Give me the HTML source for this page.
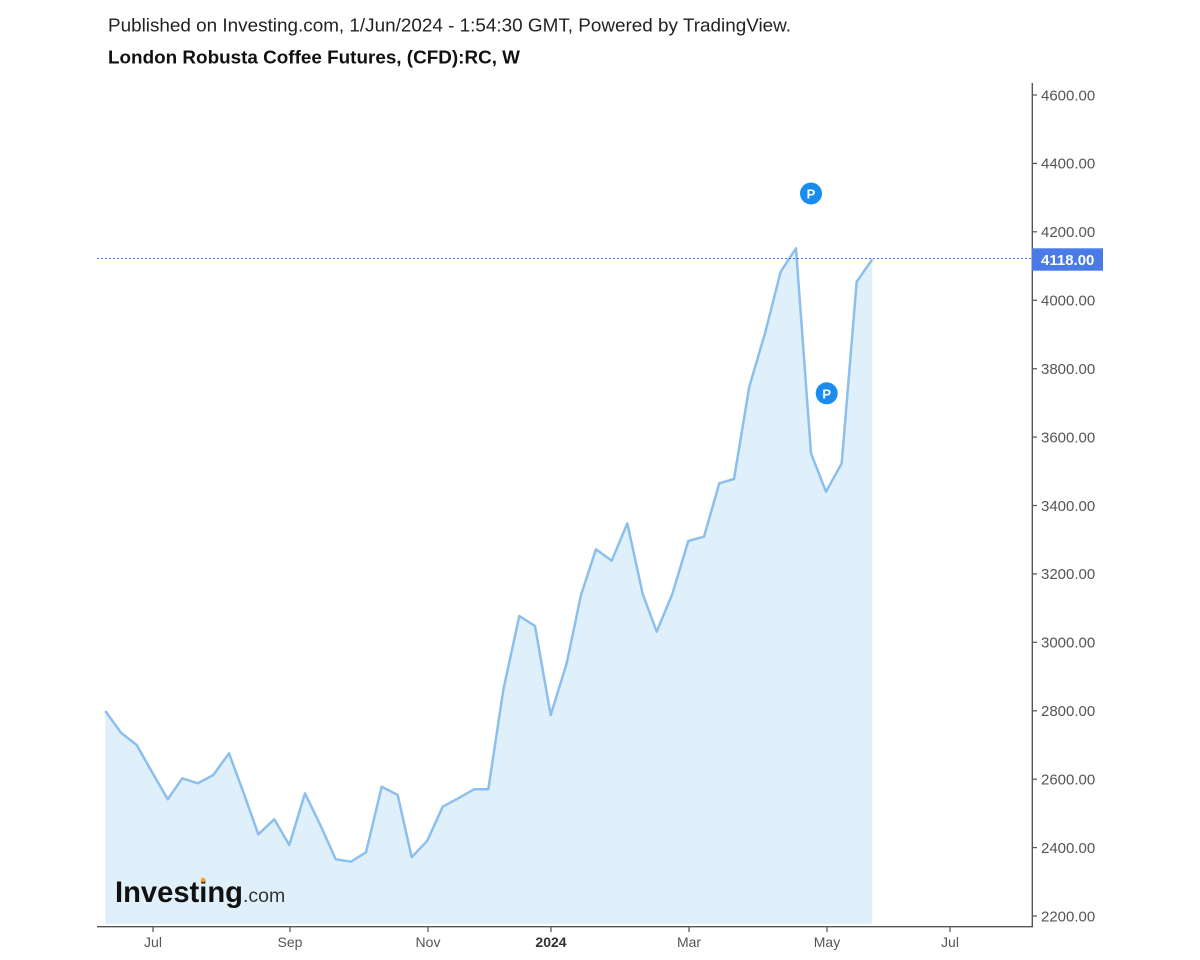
<!DOCTYPE html>
<html>
<head>
<meta charset="utf-8">
<style>
html,body{margin:0;padding:0;background:#fff;}
svg{display:block;}
text{font-family:"Liberation Sans",Arial,sans-serif;}
</style>
</head>
<body>
<svg width="1200" height="960" viewBox="0 0 1200 960" xmlns="http://www.w3.org/2000/svg">
<rect width="1200" height="960" fill="#fff"/>
<text x="108" y="31.5" font-size="18" fill="#222" textLength="683" lengthAdjust="spacingAndGlyphs">Published on Investing.com, 1/Jun/2024 - 1:54:30 GMT, Powered by TradingView.</text>
<text x="108" y="63.3" font-size="18" font-weight="bold" fill="#111" textLength="412" lengthAdjust="spacingAndGlyphs">London Robusta Coffee Futures, (CFD):RC, W</text>

<polygon fill="#e0f0fa" points="105.3,711 121,732.7 136.7,745 152,772 167.7,799.3 182.3,778.3 197.7,783.3 213.3,775 229,753.3 244,794 258.3,834.3 274.3,819.3 289.3,845 305,793.3 320.3,825 335.7,859.3 351,861.7 366,852.3 381.7,786.7 397.7,795 411.7,857.3 427.3,840.7 442.7,806.7 458.3,798.3 474,789.3 488.3,789.3 503.3,690 519.3,616 535,626 550.7,715 566.7,663.3 581,595 596,549.3 611.7,560.7 627.3,523.3 642.7,594 656.7,631.7 672.3,594 688.3,541 704,536.7 719.3,483.3 734,479 749.3,386.7 765,333.3 780.7,271.7 796,248.3 811,453.3 826,491.7 841.7,463.3 856.7,281.7 872.3,259.3 872.3,924 105.3,924"/>

<!-- Investing logo -->
<text x="115" y="902" font-size="30" font-weight="bold" fill="#111" textLength="128" lengthAdjust="spacingAndGlyphs">Investing</text>
<text x="243" y="902" font-size="19.5" fill="#333">.com</text>
<rect x="201" y="878" width="4" height="4" fill="#f7a21b" transform="rotate(20 203 880)"/>

<polyline fill="none" stroke="#8cbfee" stroke-width="2.5" stroke-linejoin="round" points="105.3,711 121,732.7 136.7,745 152,772 167.7,799.3 182.3,778.3 197.7,783.3 213.3,775 229,753.3 244,794 258.3,834.3 274.3,819.3 289.3,845 305,793.3 320.3,825 335.7,859.3 351,861.7 366,852.3 381.7,786.7 397.7,795 411.7,857.3 427.3,840.7 442.7,806.7 458.3,798.3 474,789.3 488.3,789.3 503.3,690 519.3,616 535,626 550.7,715 566.7,663.3 581,595 596,549.3 611.7,560.7 627.3,523.3 642.7,594 656.7,631.7 672.3,594 688.3,541 704,536.7 719.3,483.3 734,479 749.3,386.7 765,333.3 780.7,271.7 796,248.3 811,453.3 826,491.7 841.7,463.3 856.7,281.7 872.3,259.3"/>

<!-- last price dashed line -->
<line x1="97" y1="258.5" x2="1032" y2="258.5" stroke="#3b6fe6" stroke-width="1" stroke-dasharray="2,2"/>

<!-- P markers -->
<circle cx="811" cy="193.5" r="11" fill="#1a8cf0"/>
<text x="811" y="198.5" font-size="13" font-weight="bold" fill="#fff" text-anchor="middle">P</text>
<circle cx="826.7" cy="393.3" r="11" fill="#1a8cf0"/>
<text x="826.7" y="398.3" font-size="13" font-weight="bold" fill="#fff" text-anchor="middle">P</text>

<!-- axes -->
<line x1="1032.3" y1="83" x2="1032.3" y2="927" stroke="#555" stroke-width="1.4"/>
<line x1="97" y1="926.7" x2="1033" y2="926.7" stroke="#555" stroke-width="1.4"/>

<g stroke="#555" stroke-width="1.2">
<line x1="1032" y1="95" x2="1037" y2="95"/>
<line x1="1032" y1="163.4" x2="1037" y2="163.4"/>
<line x1="1032" y1="231.8" x2="1037" y2="231.8"/>
<line x1="1032" y1="300.3" x2="1037" y2="300.3"/>
<line x1="1032" y1="368.7" x2="1037" y2="368.7"/>
<line x1="1032" y1="437.1" x2="1037" y2="437.1"/>
<line x1="1032" y1="505.5" x2="1037" y2="505.5"/>
<line x1="1032" y1="573.9" x2="1037" y2="573.9"/>
<line x1="1032" y1="642.3" x2="1037" y2="642.3"/>
<line x1="1032" y1="710.8" x2="1037" y2="710.8"/>
<line x1="1032" y1="779.2" x2="1037" y2="779.2"/>
<line x1="1032" y1="847.6" x2="1037" y2="847.6"/>
<line x1="1032" y1="916" x2="1037" y2="916"/>
<line x1="153" y1="927" x2="153" y2="932"/>
<line x1="290" y1="927" x2="290" y2="932"/>
<line x1="428" y1="927" x2="428" y2="932"/>
<line x1="551" y1="927" x2="551" y2="932"/>
<line x1="689" y1="927" x2="689" y2="932"/>
<line x1="827" y1="927" x2="827" y2="932"/>
<line x1="950" y1="927" x2="950" y2="932"/>
</g>

<g font-size="15" fill="#555">
<text x="1041" y="100.3">4600.00</text>
<text x="1041" y="168.7">4400.00</text>
<text x="1041" y="237.1">4200.00</text>
<text x="1041" y="305.6">4000.00</text>
<text x="1041" y="374">3800.00</text>
<text x="1041" y="442.4">3600.00</text>
<text x="1041" y="510.8">3400.00</text>
<text x="1041" y="579.2">3200.00</text>
<text x="1041" y="647.6">3000.00</text>
<text x="1041" y="716.1">2800.00</text>
<text x="1041" y="784.5">2600.00</text>
<text x="1041" y="852.9">2400.00</text>
<text x="1041" y="921.3">2200.00</text>
</g>

<rect x="1032" y="248.3" width="71" height="22.4" fill="#4a7ae6"/>
<text x="1041" y="265" font-size="15" font-weight="bold" fill="#fff">4118.00</text>

<g font-size="14" fill="#555" text-anchor="middle">
<text x="153" y="947">Jul</text>
<text x="290" y="947">Sep</text>
<text x="428" y="947">Nov</text>
<text x="551" y="947" font-weight="bold" fill="#333">2024</text>
<text x="689" y="947">Mar</text>
<text x="827" y="947">May</text>
<text x="950" y="947">Jul</text>
</g>
</svg>
</body>
</html>
